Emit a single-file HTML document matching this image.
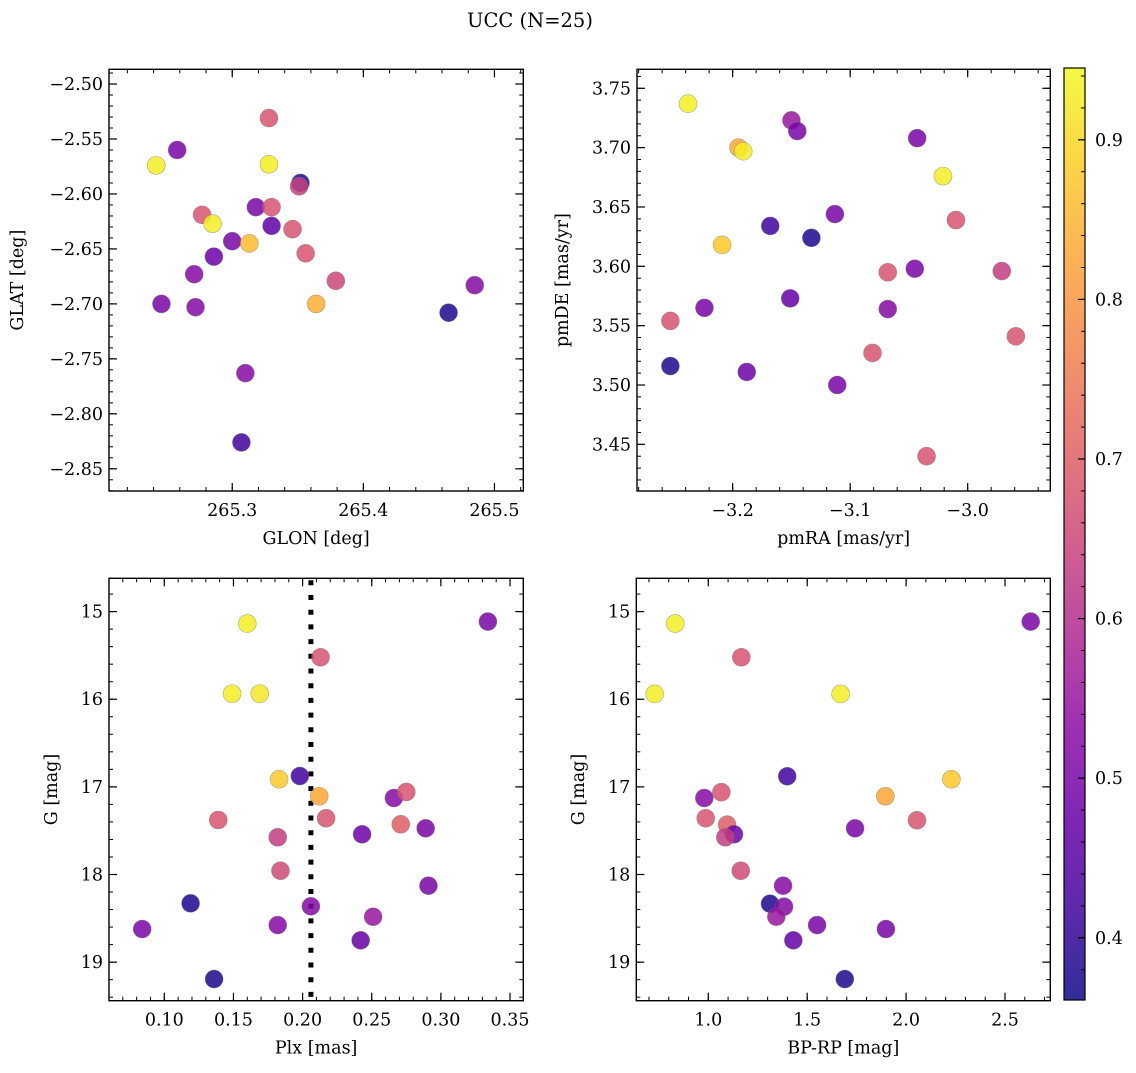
<!DOCTYPE html>
<html><head><meta charset="utf-8"><style>
body{margin:0;background:#fff;}
svg text{font-family:"DejaVu Serif","Liberation Serif",serif;fill:#000;}
</style></head><body>
<svg id="fig" width="1136" height="1068" xmlns="http://www.w3.org/2000/svg">
<rect width="1136" height="1068" fill="#fff"/>
<text x="530" y="27" font-size="19.5" text-anchor="middle">UCC (N=25)</text>
</svg>
<script>
// Panel 1: GLON vs GLAT
const glon=[265.328,265.258,265.242,265.328,265.352,265.351,265.318,265.330,265.277,265.285,265.330,265.346,265.300,265.313,265.286,265.356,265.271,265.379,265.246,265.272,265.364,265.465,265.485,265.310,265.307];
const glat=[-2.531,-2.560,-2.574,-2.573,-2.590,-2.593,-2.612,-2.612,-2.619,-2.627,-2.629,-2.632,-2.643,-2.645,-2.657,-2.654,-2.673,-2.679,-2.700,-2.703,-2.700,-2.708,-2.683,-2.763,-2.826];
const c1=[0.68,0.5,0.93,0.93,0.38,0.64,0.5,0.68,0.68,0.93,0.46,0.68,0.5,0.86,0.48,0.68,0.52,0.65,0.5,0.52,0.84,0.38,0.52,0.52,0.42];
// Panel 2: pmRA vs pmDE
const pmra=[-3.238,-3.150,-3.145,-3.043,-3.195,-3.191,-3.021,-3.113,-3.010,-3.168,-3.133,-3.209,-3.068,-3.045,-2.971,-3.151,-3.224,-3.068,-3.253,-2.959,-3.081,-3.253,-3.188,-3.111,-3.035];
const pmde=[3.737,3.723,3.714,3.708,3.700,3.697,3.676,3.644,3.639,3.634,3.624,3.618,3.595,3.598,3.596,3.573,3.565,3.564,3.554,3.541,3.527,3.516,3.511,3.500,3.440];
const c2=[0.93,0.55,0.5,0.5,0.83,0.93,0.93,0.5,0.68,0.42,0.38,0.88,0.68,0.5,0.63,0.47,0.5,0.52,0.68,0.68,0.68,0.38,0.48,0.5,0.68];
// Panel 3: Plx vs G
const plx=[0.160,0.334,0.213,0.149,0.169,0.198,0.183,0.212,0.266,0.275,0.139,0.217,0.271,0.289,0.243,0.182,0.184,0.291,0.119,0.206,0.251,0.182,0.084,0.242,0.136];
const g3=[15.137,15.114,15.521,15.936,15.936,16.876,16.913,17.107,17.127,17.058,17.378,17.358,17.427,17.473,17.541,17.575,17.957,18.128,18.329,18.363,18.482,18.577,18.622,18.751,19.193];
const c3=[0.93,0.5,0.68,0.93,0.92,0.42,0.88,0.83,0.52,0.68,0.68,0.68,0.7,0.5,0.48,0.63,0.66,0.5,0.38,0.52,0.55,0.52,0.5,0.47,0.38];
const plxLine=[0.206];
// Panel 4: BP-RP vs G
const bprp=[0.833,2.630,1.167,0.729,1.669,1.399,2.229,1.895,0.980,1.066,0.987,2.055,1.742,1.095,1.130,1.086,1.164,1.378,1.312,1.383,1.344,1.550,1.898,1.430,1.690];
const g4=[15.137,15.114,15.521,15.940,15.940,16.879,16.913,17.107,17.127,17.061,17.358,17.381,17.473,17.431,17.541,17.575,17.957,18.128,18.333,18.367,18.482,18.577,18.622,18.751,19.193];
const c4=[0.93,0.5,0.68,0.93,0.93,0.42,0.88,0.83,0.52,0.68,0.68,0.68,0.5,0.7,0.48,0.63,0.66,0.52,0.38,0.52,0.55,0.5,0.5,0.47,0.38];
// Tick labels
const t1x=[265.3,265.4,265.5], t1y=[-2.50,-2.55,-2.60,-2.65,-2.70,-2.75,-2.80,-2.85];
const t2x=[-3.2,-3.1,-3.0], t2y=[3.45,3.50,3.55,3.60,3.65,3.70,3.75];
const t3x=[0.10,0.15,0.20,0.25,0.30,0.35], tGy=[15,16,17,18,19];
const t4x=[1.0,1.5,2.0,2.5];
const cbTicks=[0.4,0.5,0.6,0.7,0.8,0.9];
const VMIN=0.361,VMAX=0.945;

const NS="http://www.w3.org/2000/svg";
const svg=document.getElementById('fig');
function mk(tag,attrs,parent){const e=document.createElementNS(NS,tag);for(const k in attrs)e.setAttribute(k,attrs[k]);(parent||svg).appendChild(e);return e;}
const stops=['#0d0887','#41049d','#6a00a8','#8f0da4','#b12a90','#cc4778','#e16462','#f2844b','#fca636','#fcce25','#f0f921'];
function hex(h){return [1,3,5].map(i=>parseInt(h.substr(i,2),16));}
function plasma(t){t=Math.max(0,Math.min(1,t));const f=t*10,i=Math.min(9,Math.floor(f)),r=f-i;const a=hex(stops[i]),b=hex(stops[i+1]);return 'rgb('+a.map((v,k)=>Math.round(v+(b[k]-v)*r)).join(',')+')';}
function cmap(v){return plasma((v-VMIN)/(VMAX-VMIN));}
const FS=17.5;

function panel(o){
  const g=mk('g',{});
  
  
  const sx=v=>o.L+(v-o.x0)/(o.x1-o.x0)*(o.R-o.L);
  const sy=v=>o.B-(v-o.y0)/(o.y1-o.y0)*(o.B-o.T);
  const fmt=(v,d)=>v<0?'\u2212'+Math.abs(v).toFixed(d):v.toFixed(d);
  let s=Math.ceil(Math.min(o.x0,o.x1)/o.xm-1e-6)*o.xm;
  for(let v=s;v<=Math.max(o.x0,o.x1)+1e-9;v+=o.xm){const x=sx(v);mk('line',{x1:x,x2:x,y1:o.B,y2:o.B-4,stroke:'#000','stroke-width':1},g);mk('line',{x1:x,x2:x,y1:o.T,y2:o.T+4,stroke:'#000','stroke-width':1},g);}
  s=Math.ceil(Math.min(o.y0,o.y1)/o.ym-1e-6)*o.ym;
  for(let v=s;v<=Math.max(o.y0,o.y1)+1e-9;v+=o.ym){const y=sy(v);mk('line',{x1:o.L,x2:o.L+4,y1:y,y2:y,stroke:'#000','stroke-width':1},g);mk('line',{x1:o.R,x2:o.R-4,y1:y,y2:y,stroke:'#000','stroke-width':1},g);}
  o.tx.forEach(v=>{const x=sx(v);mk('line',{x1:x,x2:x,y1:o.B,y2:o.B-8,stroke:'#000','stroke-width':1.2},g);mk('line',{x1:x,x2:x,y1:o.T,y2:o.T+8,stroke:'#000','stroke-width':1.2},g);
    const t=mk('text',{x:x,y:o.B+25,'font-size':FS,'text-anchor':'middle'},g);t.textContent=fmt(v,o.xd);
    
    });
  o.ty.forEach(v=>{const y=sy(v);mk('line',{x1:o.L,x2:o.L+8,y1:y,y2:y,stroke:'#000','stroke-width':1.2},g);mk('line',{x1:o.R,x2:o.R-8,y1:y,y2:y,stroke:'#000','stroke-width':1.2},g);
    const t=mk('text',{x:o.L-6,y:y+6,'font-size':FS,'text-anchor':'end'},g);t.textContent=fmt(v,o.yd);
    
    });
  if(o.vline){o.vline.forEach(v=>{const x=sx(v);const l=mk('line',{x1:x,x2:x,y1:o.T+2,y2:o.B,stroke:'#000','stroke-width':5,'stroke-dasharray':'5 9.7'},g);
    
    });}
  o.xs.forEach((v,i)=>{const c=mk('circle',{cx:sx(v),cy:sy(o.ys[i]),r:9,fill:cmap(o.cs[i]),'fill-opacity':0.85,stroke:'#777','stroke-width':0.6,'stroke-opacity':0.6},g);
    
    });
  const fr=mk('rect',{x:o.L,y:o.T,width:o.R-o.L,height:o.B-o.T,fill:'none',stroke:'#000','stroke-width':1.4},g);
  
  
  const xl=mk('text',{x:(o.L+o.R)/2,y:o.B+53,'font-size':FS,'text-anchor':'middle'},g);xl.textContent=o.xlab;
  
  
  const yx=o.ylx, yy=(o.T+o.B)/2;
  const yl=mk('text',{x:yx,y:yy,'font-size':FS,'text-anchor':'middle',transform:'rotate(-90 '+yx+' '+yy+')'},g);yl.textContent=o.ylab;
  
  
}
panel({name:'glon-glat-panel',L:109,R:523.3,T:69.3,B:491,x0:265.206,x1:265.522,y0:-2.8702,y1:-2.4866,xm:0.02,ym:0.01,tx:t1x,ty:t1y,xd:1,yd:2,xs:glon,ys:glat,cs:c1,xlab:'GLON [deg]',ylab:'GLAT [deg]',ylx:23});
panel({name:'pm-panel',L:637,R:1050.3,T:69.3,B:491,x0:-3.2814,x1:-2.9297,y0:3.4107,y1:3.766,xm:0.02,ym:0.01,tx:t2x,ty:t2y,xd:1,yd:2,xs:pmra,ys:pmde,cs:c2,xlab:'pmRA [mas/yr]',ylab:'pmDE [mas/yr]',ylx:568});
panel({name:'plx-g-panel',L:109,R:523.3,T:578.3,B:1000.7,x0:0.060,x1:0.3596,y0:19.44,y1:14.62,xm:0.01,ym:0.2,tx:t3x,ty:tGy,xd:2,yd:0,xs:plx,ys:g3,cs:c3,xlab:'Plx [mas]',ylab:'G [mag]',ylx:57,vline:plxLine});
panel({name:'bprp-g-panel',L:636.3,R:1050.3,T:578.3,B:1000.7,x0:0.636,x1:2.729,y0:19.44,y1:14.62,xm:0.1,ym:0.2,tx:t4x,ty:tGy,xd:1,yd:0,xs:bprp,ys:g4,cs:c4,xlab:'BP-RP [mag]',ylab:'G [mag]',ylx:584});
// colorbar
const cb=mk('g',{});


const CT=68,CB=1000,CL=1064,CR=1085;
const defs=mk('defs',{},cb);const lg=mk('linearGradient',{id:'cbg',x1:0,y1:1,x2:0,y2:0},defs);
for(let i=0;i<=20;i++){mk('stop',{offset:(i/20),'stop-color':plasma(i/20),'stop-opacity':0.85},lg);}
mk('rect',{x:CL,y:CT,width:CR-CL,height:CB-CT,fill:'url(#cbg)',stroke:'#000','stroke-width':1.2},cb);
const cy=v=>CB-(v-VMIN)/(VMAX-VMIN)*(CB-CT);
for(let v=0.38;v<VMAX;v+=0.02){if(v<VMIN)continue;const y=cy(v);mk('line',{x1:CR,x2:CR-4,y1:y,y2:y,stroke:'#000','stroke-width':1},cb);}
cbTicks.forEach(v=>{const y=cy(v);mk('line',{x1:CR,x2:CR-7,y1:y,y2:y,stroke:'#000','stroke-width':1.2},cb);
  const t=mk('text',{x:CR+10,y:y+6,'font-size':FS},cb);t.textContent=v.toFixed(1);
  
  });
</script>
</body></html>
